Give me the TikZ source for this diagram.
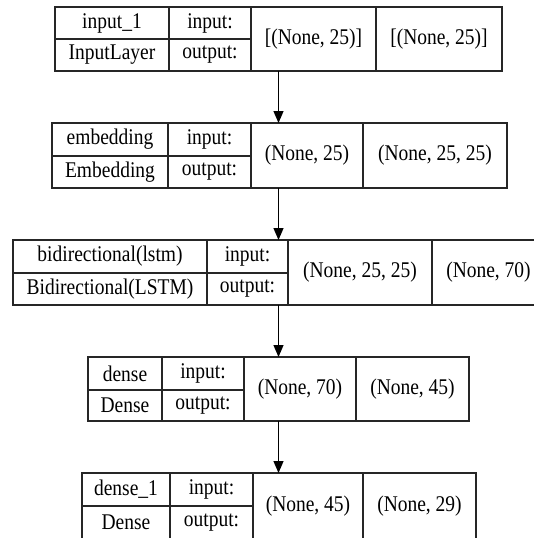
\documentclass[tikz,border=0pt]{standalone}
\usepackage{graphicx}
\usepackage{fontspec}
\setmainfont{Liberation Serif}
\usetikzlibrary{arrows.meta}
\tikzset{
  cell/.style={draw=black!85, line width=1.1pt, inner sep=0pt, outer sep=0pt, anchor=north west,
    font=\fontsize{19.5}{22}\selectfont},
  flow/.style={draw=black, line width=1.2pt, -{Triangle[length=12pt,width=10pt]}}
}
\newcommand\mycell[6]{\node[cell, minimum width={#4-#2}, minimum height={#5-#3}] (#1) at (#2,#3) {\scalebox{1}[1.15]{#6}};}
\begin{document}
\begin{tikzpicture}[x=1pt,y=-1pt]
\useasboundingbox (0,0) rectangle (534,538);
\clip (0,0) rectangle (534,538);
\fill[white] (0,0) rectangle (534,538);
% block 1
\mycell{aname}{55}{7}{169}{39}{input\_1}
\mycell{atype}{55}{39}{169}{71}{InputLayer}
\mycell{ain}{169}{7}{251}{39}{input:}
\mycell{aout}{169}{39}{251}{71}{output:}
\mycell{ainv}{251}{7}{376}{71}{[(None, 25)]}
\mycell{aoutv}{376}{7}{502}{71}{[(None, 25)]}
% block 2
\mycell{bname}{52}{123}{168}{156}{embedding}
\mycell{btype}{52}{156}{168}{188}{Embedding}
\mycell{bin}{168}{123}{251}{156}{input:}
\mycell{bout}{168}{156}{251}{188}{output:}
\mycell{binv}{251}{123}{363}{188}{(None, 25)}
\mycell{boutv}{363}{123}{507}{188}{(None, 25, 25)}
% block 3
\mycell{cname}{13}{240}{207}{273}{bidirectional(lstm)}
\mycell{ctype}{13}{273}{207}{305}{Bidirectional(LSTM)}
\mycell{cin}{207}{240}{288}{273}{input:}
\mycell{cout}{207}{273}{288}{305}{output:}
\mycell{cinv}{288}{240}{432}{305}{(None, 25, 25)}
\mycell{coutv}{432}{240}{545}{305}{(None, 70)}
% block 4
\mycell{dname}{88}{357}{162}{390}{dense}
\mycell{dtype}{88}{390}{162}{421}{Dense}
\mycell{din}{162}{357}{244}{390}{input:}
\mycell{dout}{162}{390}{244}{421}{output:}
\mycell{dinv}{244}{357}{356}{421}{(None, 70)}
\mycell{doutv}{356}{357}{469}{421}{(None, 45)}
% block 5
\mycell{ename}{82}{473}{170}{506}{dense\_1}
\mycell{etype}{82}{506}{170}{539}{Dense}
\mycell{ein}{170}{473}{253}{506}{input:}
\mycell{eout}{170}{506}{253}{539}{output:}
\mycell{einv}{253}{473}{363}{539}{(None, 45)}
\mycell{eoutv}{363}{473}{476}{539}{(None, 29)}
% connector ends
\coordinate (abot) at (278.5,71);
\coordinate (btop) at (278.5,123);
\coordinate (bbot) at (278.5,188);
\coordinate (ctop) at (278.5,240);
\coordinate (cbot) at (278.5,305);
\coordinate (dtop) at (278.5,357);
\coordinate (dbot) at (278.5,421);
\coordinate (etop) at (278.5,473);
\draw[flow] (abot) -- (btop);
\draw[flow] (bbot) -- (ctop);
\draw[flow] (cbot) -- (dtop);
\draw[flow] (dbot) -- (etop);
\end{tikzpicture}
\end{document}
